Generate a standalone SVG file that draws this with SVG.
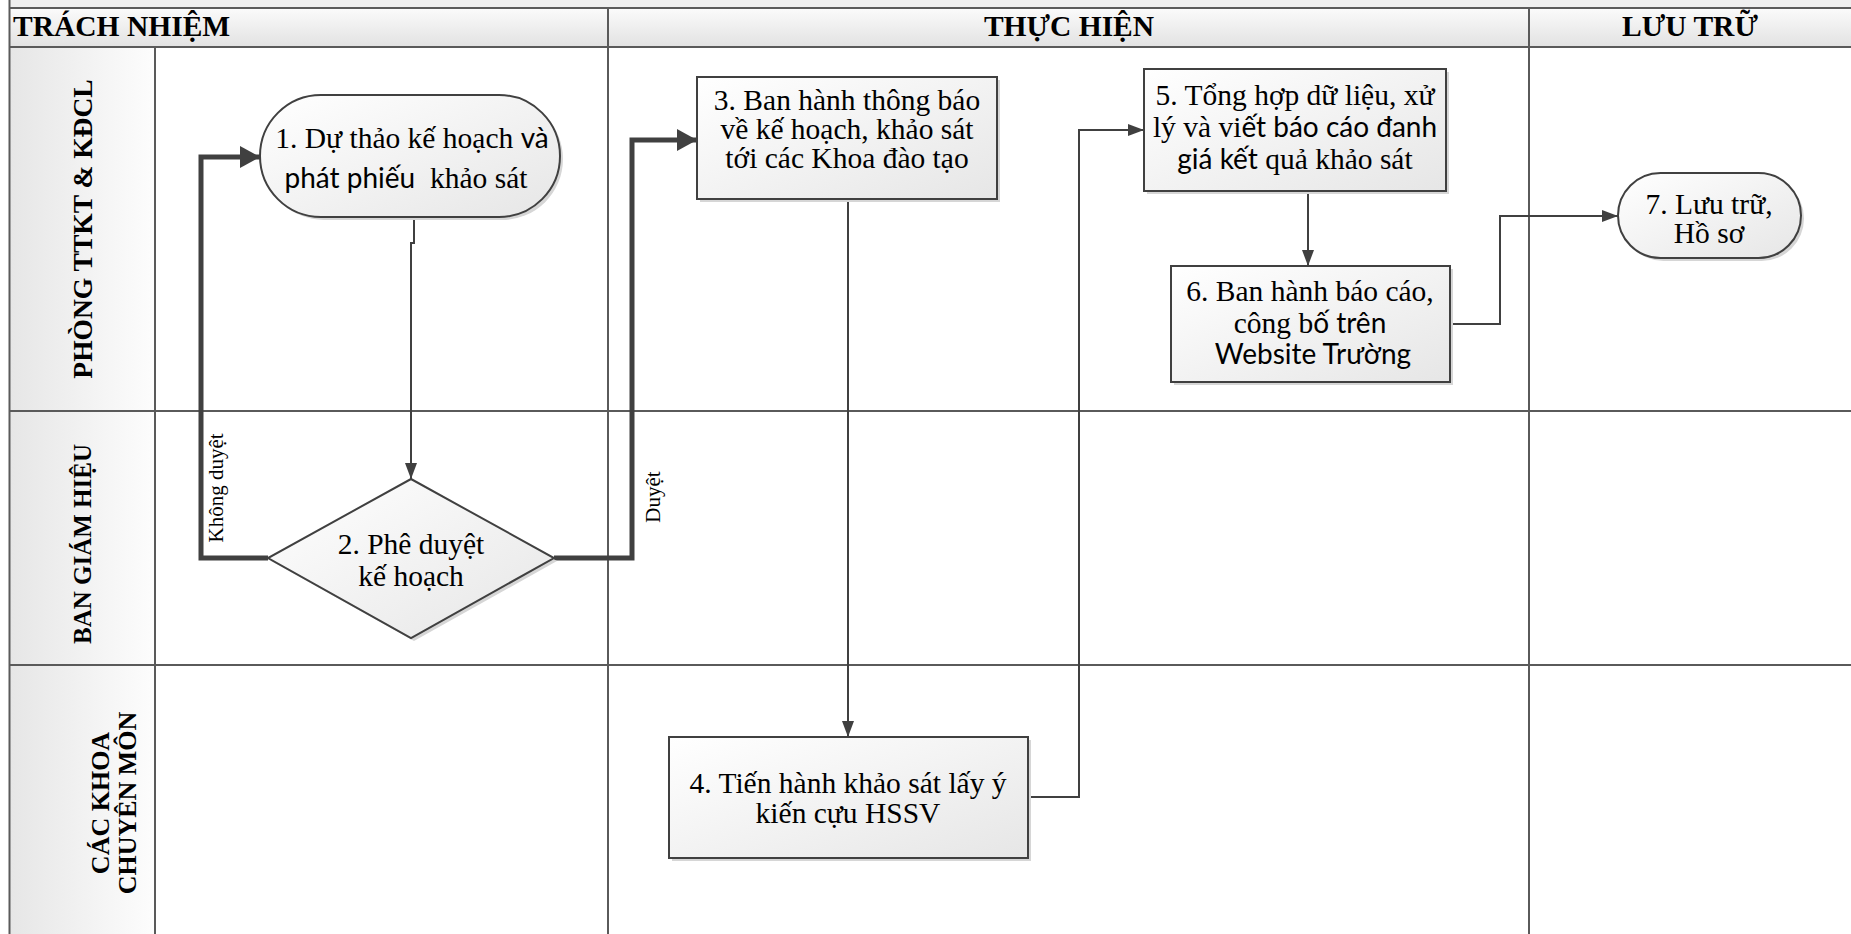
<svg xmlns="http://www.w3.org/2000/svg" width="1851" height="934" viewBox="0 0 1851 934">
<style>
.grid{stroke:#5a5a5a;stroke-width:2;fill:none}
.hdr{font-family:"Liberation Serif","Times New Roman",serif;font-weight:bold;font-size:29.5px;fill:#000}
.lane{font-family:"Liberation Serif","Times New Roman",serif;font-weight:bold;font-size:26px;fill:#000;text-anchor:middle}
.t{font-family:"Liberation Serif","Times New Roman",serif;font-size:29.5px;fill:#000;text-anchor:middle}
.s{font-family:Lato,"Liberation Sans",sans-serif;font-size:28px}
.lbl{font-family:"Liberation Serif","Times New Roman",serif;font-size:21px;fill:#000;text-anchor:middle}
.node{fill:url(#nodeFill);stroke:#404040;stroke-width:2}
.shadow{fill:#d6d6d6}
.thin{fill:none;stroke:#404040;stroke-width:2}
.thick{fill:none;stroke:#404040;stroke-width:5;stroke-linejoin:miter}
</style>
<defs>
<linearGradient id="nodeFill" x1="0" y1="0" x2="1" y2="1">
<stop offset="0" stop-color="#ffffff"/>
<stop offset="1" stop-color="#e6e6e6"/>
</linearGradient>
<linearGradient id="hdrFill" x1="0" y1="0" x2="0" y2="1">
<stop offset="0" stop-color="#fbfbfb"/>
<stop offset="1" stop-color="#e2e2e2"/>
</linearGradient>
<linearGradient id="laneFill" x1="0" y1="0" x2="1" y2="0">
<stop offset="0" stop-color="#e6e6e6"/>
<stop offset="1" stop-color="#fdfdfd"/>
</linearGradient>
<marker id="arr" viewBox="0 0 16 12" refX="16" refY="6" markerWidth="16" markerHeight="12" markerUnits="userSpaceOnUse" orient="auto">
<path d="M0,0 L16,6 L0,12 z" fill="#404040"/>
</marker>
<marker id="arrB" viewBox="0 0 20 22" refX="20" refY="11" markerWidth="20" markerHeight="22" markerUnits="userSpaceOnUse" orient="auto">
<path d="M0,0 L20,11 L0,22 z" fill="#404040"/>
</marker>
</defs>

<rect width="1851" height="934" fill="#ffffff"/>
<g id="frame">
<rect x="9.5" y="0" width="1842" height="8" fill="#eeeeee"/>
<rect x="9.5" y="8" width="598.5" height="39" fill="url(#hdrFill)"/>
<rect x="608" y="8" width="921" height="39" fill="url(#hdrFill)"/>
<rect x="1529" y="8" width="322" height="39" fill="url(#hdrFill)"/>
<rect x="9.5" y="47" width="145.5" height="887" fill="url(#laneFill)"/>
<path class="grid" d="M9.5,0 V934 M9.5,8 H1851 M9.5,47 H1851 M608,8 V934 M1529,8 V934 M155,47 V934 M9.5,411 H1851 M9.5,665 H1851"/>
<text class="hdr" x="13" y="36">TRÁCH NHIỆM</text>
<text class="hdr" x="1069" y="36" text-anchor="middle">THỰC HIỆN</text>
<text class="hdr" x="1690" y="36" text-anchor="middle">LƯU TRỮ</text>
<text class="lane" transform="translate(92,229) rotate(-90)" style="font-size:27.5px">PHÒNG TTKT &amp; KĐCL</text>
<text class="lane" transform="translate(91,544) rotate(-90)" style="font-size:25px">BAN GIÁM HIỆU</text>
<text class="lane" transform="translate(0,803) rotate(-90)"><tspan x="0" y="109">CÁC KHOA</tspan><tspan x="0" y="136">CHUYÊN MÔN</tspan></text>
</g>

<g id="connectors">
<path class="thick" d="M268,558 H201 V157 H260" marker-end="url(#arrB)"/>
<path class="thick" d="M554,558 H632 V140 H697" marker-end="url(#arrB)"/>
<path class="thin" d="M414,217 V243 H411 V479" marker-end="url(#arr)"/>
<path class="thin" d="M848,199 V737" marker-end="url(#arr)"/>
<path class="thin" d="M1028,797 H1079 V130 H1144" marker-end="url(#arr)"/>
<path class="thin" d="M1308,191 V266" marker-end="url(#arr)"/>
<path class="thin" d="M1450,324 H1500 V216 H1618" marker-end="url(#arr)"/>
<text class="lbl" transform="translate(223,488) rotate(-90)">Không duyệt</text>
<text class="lbl" transform="translate(660,497) rotate(-90)">Duyệt</text>
</g>

<g id="n1">
<rect class="shadow" x="263" y="98" width="300" height="122" rx="61"/>
<rect class="node" x="260" y="95" width="300" height="122" rx="61"/>
<text class="t" xml:space="preserve"><tspan x="412" y="148">1. Dự thảo kế hoạch <tspan class="s">và</tspan></tspan><tspan x="406" y="188"><tspan class="s">phát phiếu</tspan>  khảo sát</tspan></text>
</g>

<g id="n2">
<polygon class="shadow" points="414,482 557,561 414,641 271,561"/>
<polygon class="node" points="411,479 554,558 411,638 268,558"/>
<text class="t"><tspan x="411" y="554">2. Phê duyệt</tspan><tspan x="411" y="586">kế hoạch</tspan></text>
</g>

<g id="n3">
<rect class="shadow" x="700" y="80" width="300" height="122"/>
<rect class="node" x="697" y="77" width="300" height="122"/>
<text class="t"><tspan x="847" y="110">3. Ban hành thông báo</tspan><tspan x="847" y="139">về kế hoạch, khảo sát</tspan><tspan x="847" y="168">tới các Khoa đào tạo</tspan></text>
</g>

<g id="n4">
<rect class="shadow" x="672" y="740" width="359" height="121"/>
<rect class="node" x="669" y="737" width="359" height="121"/>
<text class="t"><tspan x="848" y="793">4. Tiến hành khảo sát lấy ý</tspan><tspan x="848" y="823">kiến cựu HSSV</tspan></text>
</g>

<g id="n5">
<rect class="shadow" x="1147" y="72" width="302" height="122"/>
<rect class="node" x="1144" y="69" width="302" height="122"/>
<text class="t"><tspan x="1295" y="105">5. Tổng hợp dữ liệu, xử</tspan><tspan x="1295" y="137">lý và vi<tspan class="s">ết báo cáo đanh</tspan></tspan><tspan x="1295" y="169"><tspan class="s">giá kết</tspan> quả khảo sát</tspan></text>
</g>

<g id="n6">
<rect class="shadow" x="1174" y="269" width="279" height="116"/>
<rect class="node" x="1171" y="266" width="279" height="116"/>
<text class="t"><tspan x="1310" y="301">6. Ban hành báo cáo,</tspan><tspan x="1310" y="333">công b<tspan class="s">ố trên</tspan></tspan><tspan x="1313" y="364" class="s">Website Trường</tspan></text>
</g>

<g id="n7">
<rect class="shadow" x="1621" y="176" width="183" height="85" rx="42.5"/>
<rect class="node" x="1618" y="173" width="183" height="85" rx="42.5"/>
<text class="t"><tspan x="1709" y="214">7. Lưu trữ,</tspan><tspan x="1709" y="243">Hồ sơ</tspan></text>
</g>
</svg>
